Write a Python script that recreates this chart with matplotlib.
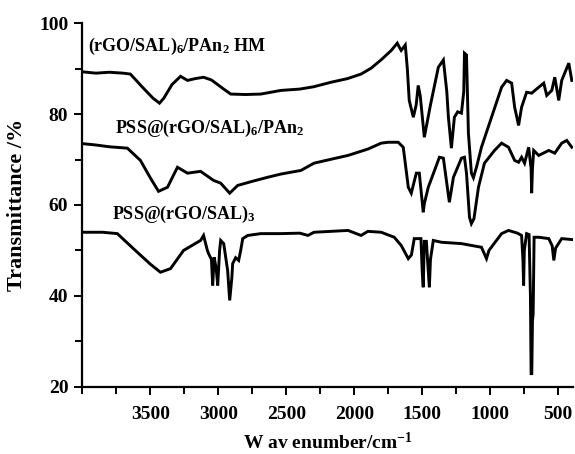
import numpy as np
import matplotlib
matplotlib.use("Agg")
import matplotlib.pyplot as plt
from matplotlib.ticker import MultipleLocator

#fonts: bold Times-like look
plt.rcParams['font.family'] = ['Liberation Serif', 'DejaVu Serif']
plt.rcParams['font.weight'] = 'bold'
plt.rcParams['mathtext.fontset'] = 'custom'
plt.rcParams['mathtext.rm'] = 'Liberation Serif:bold'
plt.rcParams['mathtext.bf'] = 'Liberation Serif:bold'
plt.rcParams['mathtext.default'] = 'bf'

#top spectrum: (rGO/SAL)6/PAn2 HM
wn_hm = [4000, 3900, 3800, 3700, 3646, 3560, 3480, 3432, 3400, 3340, 3277, 3226, 3170, 3108, 3050,
         2960, 2908, 2800, 2687, 2540, 2400, 2300, 2171, 2050, 1950, 1876, 1800, 1728, 1684, 1665,
         1655, 1625, 1610, 1596, 1566, 1545, 1530, 1515, 1485, 1440, 1382, 1345, 1320, 1308, 1286,
         1264, 1240, 1212, 1195, 1190, 1175, 1161, 1139, 1124, 1100, 1065, 991, 917, 880, 843,
         821, 792, 770, 733, 696, 644, 607, 585, 548, 526, 497, 475, 423, 401]
t_hm = [89.3, 89.0, 89.2, 89.0, 88.8, 86.0, 83.5, 82.4, 83.5, 86.5, 88.3, 87.4, 87.8, 88.1, 87.5,
        85.5, 84.4, 84.3, 84.4, 85.2, 85.5, 86.0, 87.0, 87.8, 88.8, 90.1, 92.0, 94.0, 95.6, 94.5,
        94.0, 95.2, 90.0, 83.0, 79.3, 82.0, 86.3, 84.0, 74.9, 82.0, 90.3, 91.9, 85.0, 79.3, 72.5,
        79.3, 80.5, 80.2, 85.0, 93.4, 93.0, 75.8, 67.0, 66.0, 68.5, 72.7, 79.3, 85.9, 87.4, 86.8,
        81.5, 77.5, 81.5, 84.8, 84.6, 85.9, 86.8, 84.1, 85.2, 88.1, 83.0, 87.4, 91.2, 87.4]

#middle spectrum: PSS@(rGO/SAL)6/PAn2
wn_pan = [4000, 3900, 3800, 3668, 3572, 3500, 3439, 3373, 3300, 3226, 3130, 3034, 2982, 2916, 2857,
          2750, 2636, 2540, 2392, 2296, 2150, 2046, 1900, 1802, 1751, 1677, 1640, 1620, 1603, 1581,
          1544, 1522, 1493, 1485, 1456, 1374, 1345, 1301, 1271, 1212, 1190, 1175, 1153, 1139, 1120,
          1087, 1043, 969, 917, 866, 821, 792, 770, 748, 718, 700, 696, 690, 681, 644,
          570, 526, 475, 438, 401]
t_pan = [73.5, 73.2, 72.8, 72.5, 69.8, 66.0, 63.0, 63.9, 68.3, 67.0, 67.4, 65.4, 64.8, 62.6, 64.3,
         65.2, 66.1, 66.8, 67.6, 69.2, 70.2, 70.9, 72.3, 73.6, 73.8, 73.8, 72.7, 68.0, 63.9, 62.6,
         67.0, 67.0, 58.4, 60.3, 63.9, 70.5, 70.3, 60.6, 66.1, 70.3, 70.5, 67.0, 57.3, 55.9, 57.0,
         63.9, 69.2, 72.0, 73.6, 72.7, 69.8, 69.4, 70.5, 69.2, 72.7, 68.0, 62.6, 68.0, 72.0, 70.9,
         72.0, 71.4, 73.6, 74.2, 72.7]

#bottom spectrum: PSS@(rGO/SAL)3
wn_pss = [4000, 3850, 3742, 3624, 3500, 3425, 3351, 3255, 3130, 3108, 3080, 3071, 3050, 3041, 3030,
          3015, 3004, 2990, 2982, 2960, 2931, 2916, 2900, 2894, 2872, 2850, 2835, 2820, 2783, 2687,
          2540, 2400, 2341, 2296, 2046, 1950, 1900, 1802, 1706, 1655, 1603, 1580, 1559, 1510, 1500,
          1493, 1485, 1470, 1455, 1448, 1440, 1419, 1360, 1212, 1139, 1065, 1028, 1010, 917, 866,
          800, 770, 760, 755, 750, 733, 715, 705, 700, 695, 690, 685, 678, 644, 570,
          545, 533, 520, 475, 401]
t_pss = [54.0, 54.0, 53.7, 50.4, 47.0, 45.2, 46.0, 50.0, 52.2, 53.3, 50.0, 49.3, 48.0, 42.3, 48.5,
         46.0, 42.3, 50.0, 52.2, 51.5, 45.6, 39.0, 44.0, 47.1, 48.4, 47.8, 50.0, 52.6, 53.3, 53.7,
         53.7, 53.8, 53.3, 54.0, 54.4, 53.3, 54.2, 54.0, 52.9, 51.1, 48.2, 49.0, 52.6, 52.6, 45.0,
         41.9, 52.0, 52.0, 45.0, 41.9, 48.0, 52.2, 51.8, 51.5, 51.1, 50.7, 48.2, 50.0, 53.7, 54.4,
         53.8, 53.3, 48.0, 42.3, 50.0, 53.7, 53.5, 40.0, 22.9, 22.9, 34.6, 36.0, 52.9, 52.9, 52.6,
         51.0, 47.8, 50.5, 52.6, 52.4]

labels = [r'(rGO/SAL)$_{6}$/PAn$_{2}$ HM', r'PSS@(rGO/SAL)$_{6}$/PAn$_{2}$', r'PSS@(rGO/SAL)$_{3}$']
label_pos = [(3956, 94.9), (3757, 76.9), (3779, 57.9)]

fig = plt.figure(figsize=(5.75, 4.54), dpi=100)
ax = fig.add_axes([0.143, 0.148, 0.854, 0.801])

for wn, t in [(wn_hm, t_hm), (wn_pan, t_pan), (wn_pss, t_pss)]:
    ax.plot(wn, t, color='black', lw=2.1, solid_joinstyle='miter')

for lab, (x, y) in zip(labels, label_pos):
    ax.text(x, y, lab, fontsize=13, fontweight='bold', ha='left', va='center')

ax.set_xlim(4000, 390)
ax.set_ylim(20, 100)
ax.xaxis.set_minor_locator(MultipleLocator(250))
ax.yaxis.set_major_locator(MultipleLocator(20))
ax.yaxis.set_minor_locator(MultipleLocator(10))
ax.set_xticks([3500, 3000, 2500, 2000, 1500, 1000, 500])

for side in ['top', 'right']:
    ax.spines[side].set_visible(False)
for side in ['left', 'bottom']:
    ax.spines[side].set_linewidth(1.6)

ax.tick_params(which='major', direction='out', length=6, width=1.4, labelsize=14, pad=4)
ax.tick_params(which='minor', direction='out', length=5, width=1.4)
ax.tick_params(axis='x', which='major', pad=8)
for lbl in ax.get_xticklabels() + ax.get_yticklabels():
    lbl.set_fontweight('bold')

ax.set_xlabel(r'W av enumber/cm$^{\mathbf{-1}}$', fontsize=14, fontweight='bold', labelpad=6)
ax.set_ylabel('Transmittance /%', fontsize=16, fontweight='bold', labelpad=9)

fig.savefig('out.png', dpi=100)
